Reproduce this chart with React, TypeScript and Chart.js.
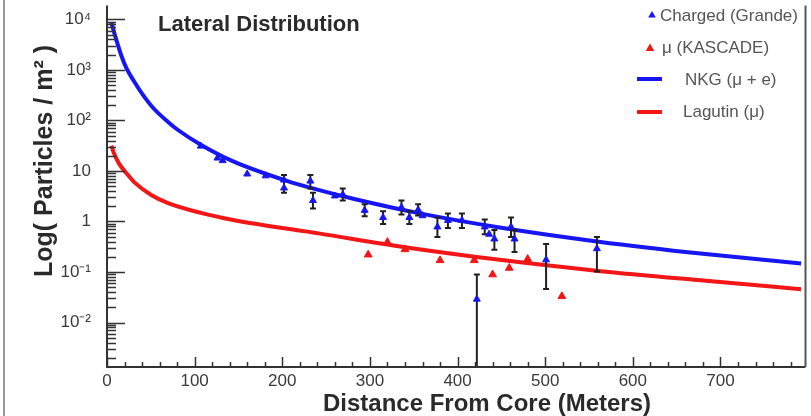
import React, { useEffect, useRef } from 'react';
import { Chart, registerables } from 'chart.js';

Chart.register(...registerables);

// NKG (mu + e) fitted curve
const nkgR = [5, 8, 12.5, 16, 22, 31, 42, 53, 69, 81, 107, 144, 206, 240, 281, 357, 448, 561, 680, 792];
const nkgVal = [8710, 5620, 3090, 1995, 1096, 589, 302, 174, 95.5, 64.6, 33.1, 15.5, 6.31, 4.27, 2.82, 1.445, 0.759, 0.398, 0.229, 0.148];

// Lagutin (mu) curve
const lagR = [5, 8, 13.6, 24, 31, 50, 69, 107, 144, 243, 340, 448, 561, 680, 792];
const lagVal = [31.6, 22.4, 14.1, 8.3, 6.0, 3.39, 2.34, 1.48, 1.07, 0.575, 0.309, 0.174, 0.105, 0.0676, 0.0457];

// Charged (Grande) points with error bars
const grR = [107, 126, 132, 160, 181, 202, 202, 232, 235, 260, 269, 294, 315, 336, 345, 355, 360, 377, 389, 405, 422, 431, 436, 442, 461, 465, 501, 559];
const grVal = [31, 18, 16, 8.7, 8.0, 6.6, 4.6, 6.3, 2.6, 3.2, 3.4, 1.66, 1.2, 1.9, 1.2, 1.7, 1.3, 0.78, 1.05, 1.05, 0.029, 0.78, 0.56, 0.45, 0.78, 0.45, 0.174, 0.29];
const grHi: (number | null)[] = [null, null, null, null, null, 8.3, null, 8.3, 3.7, null, 4.5, 2.2, 1.6, 2.6, 1.6, 2.2, null, 1.2, 1.44, 1.44, 0.089, 1.1, null, 0.68, 1.2, 0.68, 0.36, 0.49];
const grLo: (number | null)[] = [null, null, null, null, null, 3.7, null, 4.5, 1.8, null, 2.6, 1.27, 0.89, 1.38, 0.89, 1.32, null, 0.49, 0.74, 0.74, 0.001, 0.56, null, 0.275, 0.49, 0.25, 0.046, 0.102];

// mu (KASCADE) points
const kaR = [298, 320, 340, 380, 419, 440, 459, 480, 519];
const kaVal = [0.22, 0.39, 0.28, 0.17, 0.17, 0.089, 0.12, 0.18, 0.033];

// Axis ticks
const xTicks = [0, 100, 200, 300, 400, 500, 600, 700];
const yTicks = [1e-2, 1e-1, 1, 10, 1e2, 1e3, 1e4];
const yTickLabels = ['10\u207B\u00B2', '10\u207B\u00B9', '1', '10', '10\u00B2', '10\u00B3', '10\u2074'];

const legendLabels = ['Charged (Grande)', '\u03BC (KASCADE)', 'NKG (\u03BC + e)', 'Lagutin (\u03BC)'];

const BLUE = '#1616f2';
const RED = '#f21616';
const FONT = '"Liberation Sans", Arial, sans-serif';

function tri(ctx: CanvasRenderingContext2D, x: number, y: number, r: number) {
  ctx.beginPath();
  ctx.moveTo(x, y - r);
  ctx.lineTo(x + r * 0.95, y + r * 0.65);
  ctx.lineTo(x - r * 0.95, y + r * 0.65);
  ctx.closePath();
  ctx.fill();
}

const decor = {
  id: 'decor',
  beforeDraw(chart: any) {
    const ctx = chart.ctx;
    ctx.save();
    ctx.fillStyle = '#ffffff';
    ctx.fillRect(0, 0, chart.width, chart.height);
    ctx.fillStyle = '#9a9a9a';
    ctx.fillRect(3, 0, 2, chart.height);
    ctx.restore();
  },
  beforeDatasetDraw(chart: any, args: any) {
    if (args.index !== 0) return;
    const ctx = chart.ctx;
    const xs = chart.scales.x;
    const ys = chart.scales.y;
    const ca = chart.chartArea;
    ctx.save();
    ctx.beginPath();
    ctx.rect(ca.left, ca.top, ca.right - ca.left, ca.bottom - ca.top);
    ctx.clip();
    ctx.strokeStyle = '#202020';
    ctx.lineWidth = 2;
    grR.forEach((r, i) => {
      const hi = grHi[i];
      const lo = grLo[i];
      if (hi == null || lo == null) return;
      const px = xs.getPixelForValue(r);
      const y1 = ys.getPixelForValue(hi);
      const y2 = ys.getPixelForValue(lo);
      ctx.beginPath();
      ctx.moveTo(px, y1);
      ctx.lineTo(px, y2);
      ctx.moveTo(px - 3, y1);
      ctx.lineTo(px + 3, y1);
      ctx.moveTo(px - 3, y2);
      ctx.lineTo(px + 3, y2);
      ctx.stroke();
    });
    ctx.restore();
  },
  afterDraw(chart: any) {
    const ctx = chart.ctx;
    const xs = chart.scales.x;
    const ys = chart.scales.y;
    const ca = chart.chartArea;
    ctx.save();
    // axes and frame
    ctx.strokeStyle = '#333333';
    ctx.lineWidth = 2;
    ctx.beginPath();
    ctx.moveTo(ca.left, ca.top);
    ctx.lineTo(ca.left, ca.bottom);
    ctx.lineTo(ca.right, ca.bottom);
    ctx.stroke();
    ctx.strokeStyle = '#555555';
    ctx.beginPath();
    ctx.moveTo(ca.right, ca.top);
    ctx.lineTo(ca.right, ca.bottom);
    ctx.stroke();

    // y ticks (major + log minor), drawn inward
    ctx.strokeStyle = '#333333';
    ctx.lineWidth = 1.5;
    ctx.beginPath();
    for (let k = -3; k <= 4; k++) {
      for (let m = 1; m <= 9; m++) {
        const v = m * Math.pow(10, k);
        if (v < ys.min || v > ys.max) continue;
        const py = Math.round(ys.getPixelForValue(v)) + 0.5;
        const len = m === 1 ? 18 : 9;
        ctx.moveTo(ca.left, py);
        ctx.lineTo(ca.left + len, py);
      }
    }
    // x ticks
    for (let v = 0; v <= xs.max; v += 20) {
      const px = Math.round(xs.getPixelForValue(v)) + 0.5;
      const len = v % 100 === 0 ? 10 : 5;
      ctx.moveTo(px, ca.bottom);
      ctx.lineTo(px, ca.bottom - len);
    }
    ctx.stroke();

    // plot title
    ctx.fillStyle = '#2a2a2a';
    ctx.font = `bold 22px ${FONT}`;
    ctx.textAlign = 'left';
    ctx.textBaseline = 'alphabetic';
    ctx.fillText('Lateral Distribution', 158, 31);

    // x title
    ctx.font = `bold 24px ${FONT}`;
    ctx.textAlign = 'center';
    ctx.fillText('Distance From Core (Meters)', 487, 411);

    // y title
    ctx.save();
    ctx.font = `bold 25px ${FONT}`;
    ctx.translate(45, 161);
    ctx.rotate(-Math.PI / 2);
    ctx.textBaseline = 'middle';
    ctx.fillText('Log( Particles / m\u00B2 )', 0, 0);
    ctx.restore();

    // legend
    ctx.font = `17px ${FONT}`;
    ctx.textAlign = 'left';
    ctx.textBaseline = 'middle';
    ctx.fillStyle = BLUE;
    tri(ctx, 652, 15, 4);
    ctx.fillStyle = RED;
    tri(ctx, 650, 48, 4.5);
    ctx.lineWidth = 4;
    ctx.strokeStyle = BLUE;
    ctx.beginPath();
    ctx.moveTo(637, 79);
    ctx.lineTo(662, 79);
    ctx.stroke();
    ctx.strokeStyle = RED;
    ctx.beginPath();
    ctx.moveTo(637, 112);
    ctx.lineTo(662, 112);
    ctx.stroke();
    ctx.fillStyle = '#555555';
    ctx.fillText(legendLabels[0], 660, 16);
    ctx.fillText(legendLabels[1], 662, 48);
    ctx.fillText(legendLabels[2], 685, 80);
    ctx.fillText(legendLabels[3], 683, 112);
    ctx.restore();
  },
};

export default function App() {
  const ref = useRef<HTMLCanvasElement>(null);
  useEffect(() => {
    const chart = new Chart(ref.current as HTMLCanvasElement, {
      type: 'scatter',
      data: {
        datasets: [
          {
            label: legendLabels[0],
            data: grR.map((x, i) => ({ x, y: grVal[i] })),
            pointStyle: 'triangle',
            pointRadius: 4,
            backgroundColor: BLUE,
            borderColor: BLUE,
            borderWidth: 1,
            showLine: false,
          },
          {
            label: legendLabels[1],
            data: kaR.map((x, i) => ({ x, y: kaVal[i] })),
            pointStyle: 'triangle',
            pointRadius: 4.5,
            backgroundColor: RED,
            borderColor: RED,
            borderWidth: 1,
            showLine: false,
          },
          {
            label: legendLabels[2],
            data: nkgR.map((x, i) => ({ x, y: nkgVal[i] })),
            showLine: true,
            pointRadius: 0,
            borderColor: BLUE,
            borderWidth: 4,
            cubicInterpolationMode: 'monotone',
          },
          {
            label: legendLabels[3],
            data: lagR.map((x, i) => ({ x, y: lagVal[i] })),
            showLine: true,
            pointRadius: 0,
            borderColor: RED,
            borderWidth: 4,
            cubicInterpolationMode: 'monotone',
          },
        ],
      } as any,
      options: {
        animation: false,
        responsive: false,
        devicePixelRatio: 1,
        layout: { padding: { left: 0, right: 3, top: 0, bottom: 0 } },
        plugins: { legend: { display: false }, tooltip: { enabled: false } },
        scales: {
          x: {
            type: 'linear',
            min: 0,
            max: 797,
            afterFit: (s: any) => {
              s.height = 49;
              s.paddingLeft = 0;
              s.paddingRight = 0;
              s.paddingTop = 0;
              s.paddingBottom = 0;
            },
            afterBuildTicks: (s: any) => {
              s.ticks = xTicks.map((v) => ({ value: v }));
            },
            grid: { display: false },
            border: { display: false },
            ticks: {
              font: { family: FONT, size: 17 },
              color: '#3a3a3a',
              padding: -4,
              maxRotation: 0,
              autoSkip: false,
            },
          },
          y: {
            type: 'logarithmic',
            min: Math.pow(10, -2.88),
            max: Math.pow(10, 4.274),
            afterFit: (s: any) => {
              s.width = 107;
              s.paddingLeft = 0;
              s.paddingRight = 0;
              s.paddingTop = 0;
              s.paddingBottom = 0;
            },
            afterBuildTicks: (s: any) => {
              s.ticks = yTicks.map((v) => ({ value: v }));
            },
            grid: { display: false },
            border: { display: false },
            ticks: {
              font: { family: FONT, size: 17 },
              color: '#3a3a3a',
              padding: 8,
              autoSkip: false,
              callback: (v: any) => {
                const i = yTicks.findIndex((t) => Math.abs(Math.log10(t) - Math.log10(Number(v))) < 1e-6);
                return i >= 0 ? yTickLabels[i] : '';
              },
            },
          },
        },
      } as any,
      plugins: [decor],
    });
    return () => chart.destroy();
  }, []);
  return (
    <div style={{ position: 'absolute', left: 0, top: 0, width: 811, height: 416, background: '#fff' }}>
      <canvas ref={ref} width={811} height={416} />
    </div>
  );
}
